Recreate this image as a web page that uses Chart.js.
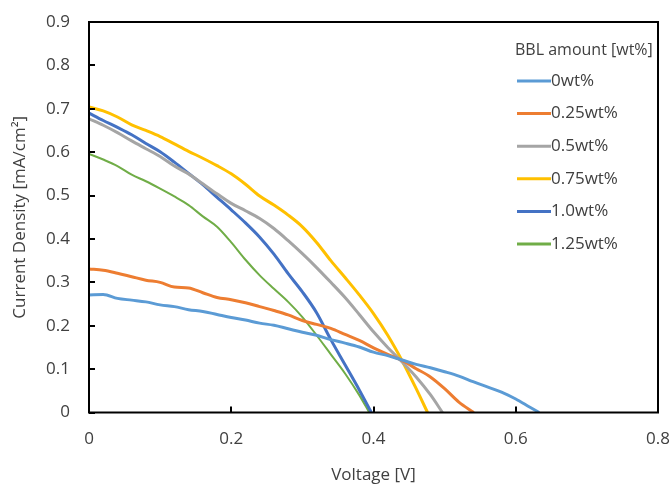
<!DOCTYPE html>
<html>
<head>
<meta charset="utf-8">
<script src="https://cdn.jsdelivr.net/npm/chart.js@4.4.0/dist/chart.umd.min.js"></script>
<style>
  html, body { margin: 0; padding: 0; background: #fff; }
  #wrap { width: 671px; height: 485px; }
</style>
</head>
<body>
<div id="wrap"><canvas id="ivChart" width="671" height="485"></canvas></div>
<script>
// J-V curves for different BBL amounts
const seriesLabels = ['0wt%', '0.25wt%', '0.5wt%', '0.75wt%', '1.0wt%', '1.25wt%'];
const seriesColors = ['#5B9BD5', '#ED7D31', '#A5A5A5', '#FFC000', '#4472C4', '#70AD47'];

const voltage0 = [0, 0.02, 0.04, 0.06, 0.08, 0.10, 0.12, 0.14, 0.16, 0.18, 0.20, 0.22, 0.24, 0.26, 0.28, 0.30, 0.32, 0.34, 0.36, 0.38, 0.40, 0.42, 0.44, 0.46, 0.48, 0.50, 0.52, 0.54, 0.56, 0.58, 0.60, 0.62, 0.633];
const current0 = [0.271, 0.272, 0.263, 0.259, 0.255, 0.248, 0.244, 0.237, 0.233, 0.226, 0.219, 0.213, 0.206, 0.201, 0.193, 0.185, 0.178, 0.168, 0.160, 0.151, 0.139, 0.131, 0.121, 0.111, 0.103, 0.094, 0.084, 0.071, 0.059, 0.047, 0.031, 0.012, 0];

const voltage025 = [0, 0.02, 0.04, 0.06, 0.08, 0.10, 0.12, 0.14, 0.16, 0.18, 0.20, 0.22, 0.24, 0.26, 0.28, 0.30, 0.32, 0.34, 0.36, 0.38, 0.40, 0.42, 0.44, 0.46, 0.48, 0.50, 0.52, 0.541];
const current025 = [0.331, 0.328, 0.321, 0.313, 0.305, 0.300, 0.289, 0.287, 0.276, 0.265, 0.260, 0.253, 0.244, 0.235, 0.225, 0.212, 0.203, 0.194, 0.180, 0.166, 0.149, 0.134, 0.120, 0.101, 0.082, 0.055, 0.024, 0];

const voltage05 = [0, 0.02, 0.04, 0.06, 0.08, 0.10, 0.12, 0.14, 0.16, 0.18, 0.20, 0.22, 0.24, 0.26, 0.28, 0.30, 0.32, 0.34, 0.36, 0.38, 0.40, 0.42, 0.44, 0.46, 0.48, 0.497];
const current05 = [0.677, 0.662, 0.645, 0.626, 0.608, 0.590, 0.568, 0.550, 0.527, 0.504, 0.482, 0.465, 0.447, 0.424, 0.396, 0.366, 0.334, 0.300, 0.265, 0.226, 0.186, 0.150, 0.117, 0.082, 0.041, 0];

const voltage075 = [0, 0.02, 0.04, 0.06, 0.08, 0.10, 0.12, 0.14, 0.16, 0.18, 0.20, 0.22, 0.24, 0.26, 0.28, 0.30, 0.32, 0.34, 0.36, 0.38, 0.40, 0.42, 0.44, 0.46, 0.476];
const current075 = [0.704, 0.695, 0.681, 0.663, 0.650, 0.636, 0.619, 0.602, 0.586, 0.569, 0.550, 0.526, 0.499, 0.478, 0.455, 0.428, 0.392, 0.350, 0.311, 0.271, 0.228, 0.178, 0.120, 0.055, 0];

const voltage10 = [0, 0.02, 0.04, 0.06, 0.08, 0.10, 0.12, 0.14, 0.16, 0.18, 0.20, 0.22, 0.24, 0.26, 0.28, 0.30, 0.32, 0.34, 0.36, 0.38, 0.397];
const current10 = [0.690, 0.673, 0.657, 0.640, 0.620, 0.601, 0.577, 0.551, 0.525, 0.496, 0.467, 0.437, 0.404, 0.365, 0.320, 0.278, 0.230, 0.168, 0.110, 0.052, 0];

const voltage125 = [0, 0.02, 0.04, 0.06, 0.08, 0.10, 0.12, 0.14, 0.16, 0.18, 0.20, 0.22, 0.24, 0.26, 0.28, 0.30, 0.32, 0.34, 0.36, 0.38, 0.394];
const current125 = [0.596, 0.583, 0.568, 0.548, 0.533, 0.516, 0.498, 0.478, 0.452, 0.428, 0.392, 0.352, 0.316, 0.285, 0.255, 0.220, 0.178, 0.134, 0.090, 0.040, 0];

const xTicks = [0, 0.2, 0.4, 0.6, 0.8];
const yTicks = [0, 0.1, 0.2, 0.3, 0.4, 0.5, 0.6, 0.7, 0.8, 0.9];

const legendTitle = 'BBL amount [wt%]';
const FONT = '"Open Sans", "DejaVu Sans", sans-serif';

const voltages = [voltage0, voltage025, voltage05, voltage075, voltage10, voltage125];
const currents = [current0, current025, current05, current075, current10, current125];

function toPoints(xs, ys) {
    return xs.map((v, i) => ({ x: v, y: ys[i] }));
}

// Excel-style frame with inward tick marks
const framePlugin = {
    id: 'frame',
    afterDraw(chart) {
        const { ctx, chartArea: a, scales } = chart;
        ctx.save();
        ctx.strokeStyle = '#000';
        ctx.lineWidth = 2;
        ctx.strokeRect(a.left, a.top, a.right - a.left, a.bottom - a.top);
        ctx.beginPath();
        xTicks.forEach(t => {
            const px = Math.round(scales.x.getPixelForValue(t));
            ctx.moveTo(px, a.bottom);
            ctx.lineTo(px, a.bottom - 6);
        });
        yTicks.forEach(t => {
            const py = Math.round(scales.y.getPixelForValue(t));
            ctx.moveTo(a.left, py);
            ctx.lineTo(a.left + 6, py);
        });
        ctx.stroke();
        ctx.restore();
    }
};

// Legend drawn inside the plot, top right
const insideLegend = {
    id: 'insideLegend',
    afterDraw(chart) {
        const { ctx, chartArea: a } = chart;
        const x0 = a.right - 143;
        ctx.save();
        ctx.fillStyle = '#404040';
        ctx.textBaseline = 'middle';
        ctx.textAlign = 'left';
        ctx.font = '16px ' + FONT;
        ctx.fillText(legendTitle, x0, a.top + 28);
        ctx.font = '17px ' + FONT;
        chart.data.datasets.forEach((ds, i) => {
            const y = a.top + 59 + i * 32.6;
            ctx.strokeStyle = ds.borderColor;
            ctx.lineWidth = 3;
            ctx.beginPath();
            ctx.moveTo(x0 + 2, y);
            ctx.lineTo(x0 + 36, y);
            ctx.stroke();
            ctx.fillText(ds.label, x0 + 36, y);
        });
        ctx.restore();
    }
};

const datasets = seriesLabels.map((label, i) => ({
    label: label,
    data: toPoints(voltages[i], currents[i]),
    borderColor: seriesColors[i],
    backgroundColor: seriesColors[i],
    borderWidth: i === 5 ? 2 : 3,
    pointRadius: 0,
    showLine: true,
    fill: false,
    cubicInterpolationMode: 'monotone'
}));

new Chart(document.getElementById('ivChart').getContext('2d'), {
    type: 'scatter',
    data: { datasets: datasets },
    options: {
        responsive: false,
        animation: false,
        devicePixelRatio: 1,
        layout: { padding: { left: 0, right: 13, top: 22, bottom: 0 } },
        plugins: {
            legend: { display: false },
            tooltip: { enabled: false }
        },
        scales: {
            x: {
                type: 'linear',
                min: 0,
                max: 0.8,
                afterBuildTicks: s => { s.ticks = xTicks.map(v => ({ value: v })); },
                afterFit: s => { s.height = 72.5; s.paddingLeft = 0; s.paddingRight = 0; },
                grid: { display: false, drawTicks: false },
                border: { display: false },
                ticks: {
                    padding: 16,
                    color: '#404040',
                    font: { family: FONT, size: 17 },
                    callback: v => v === 0 ? '0' : v.toFixed(1)
                },
                title: {
                    display: true,
                    text: 'Voltage [V]',
                    color: '#404040',
                    font: { family: FONT, size: 17 },
                    padding: { top: 0, bottom: 0 }
                }
            },
            y: {
                type: 'linear',
                min: 0,
                max: 0.9,
                afterBuildTicks: s => { s.ticks = yTicks.map(v => ({ value: v })); },
                afterFit: s => { s.width = 89; s.paddingTop = 0; s.paddingBottom = 0; },
                grid: { display: false, drawTicks: false },
                border: { display: false },
                ticks: {
                    padding: 19,
                    color: '#404040',
                    font: { family: FONT, size: 17 },
                    callback: v => v === 0 ? '0' : v.toFixed(1)
                },
                title: {
                    display: true,
                    text: 'Current Density [mA/cm²]',
                    color: '#404040',
                    font: { family: FONT, size: 17 },
                    padding: { top: 10, bottom: 0 }
                }
            }
        }
    },
    plugins: [framePlugin, insideLegend]
});
</script>
</body>
</html>
